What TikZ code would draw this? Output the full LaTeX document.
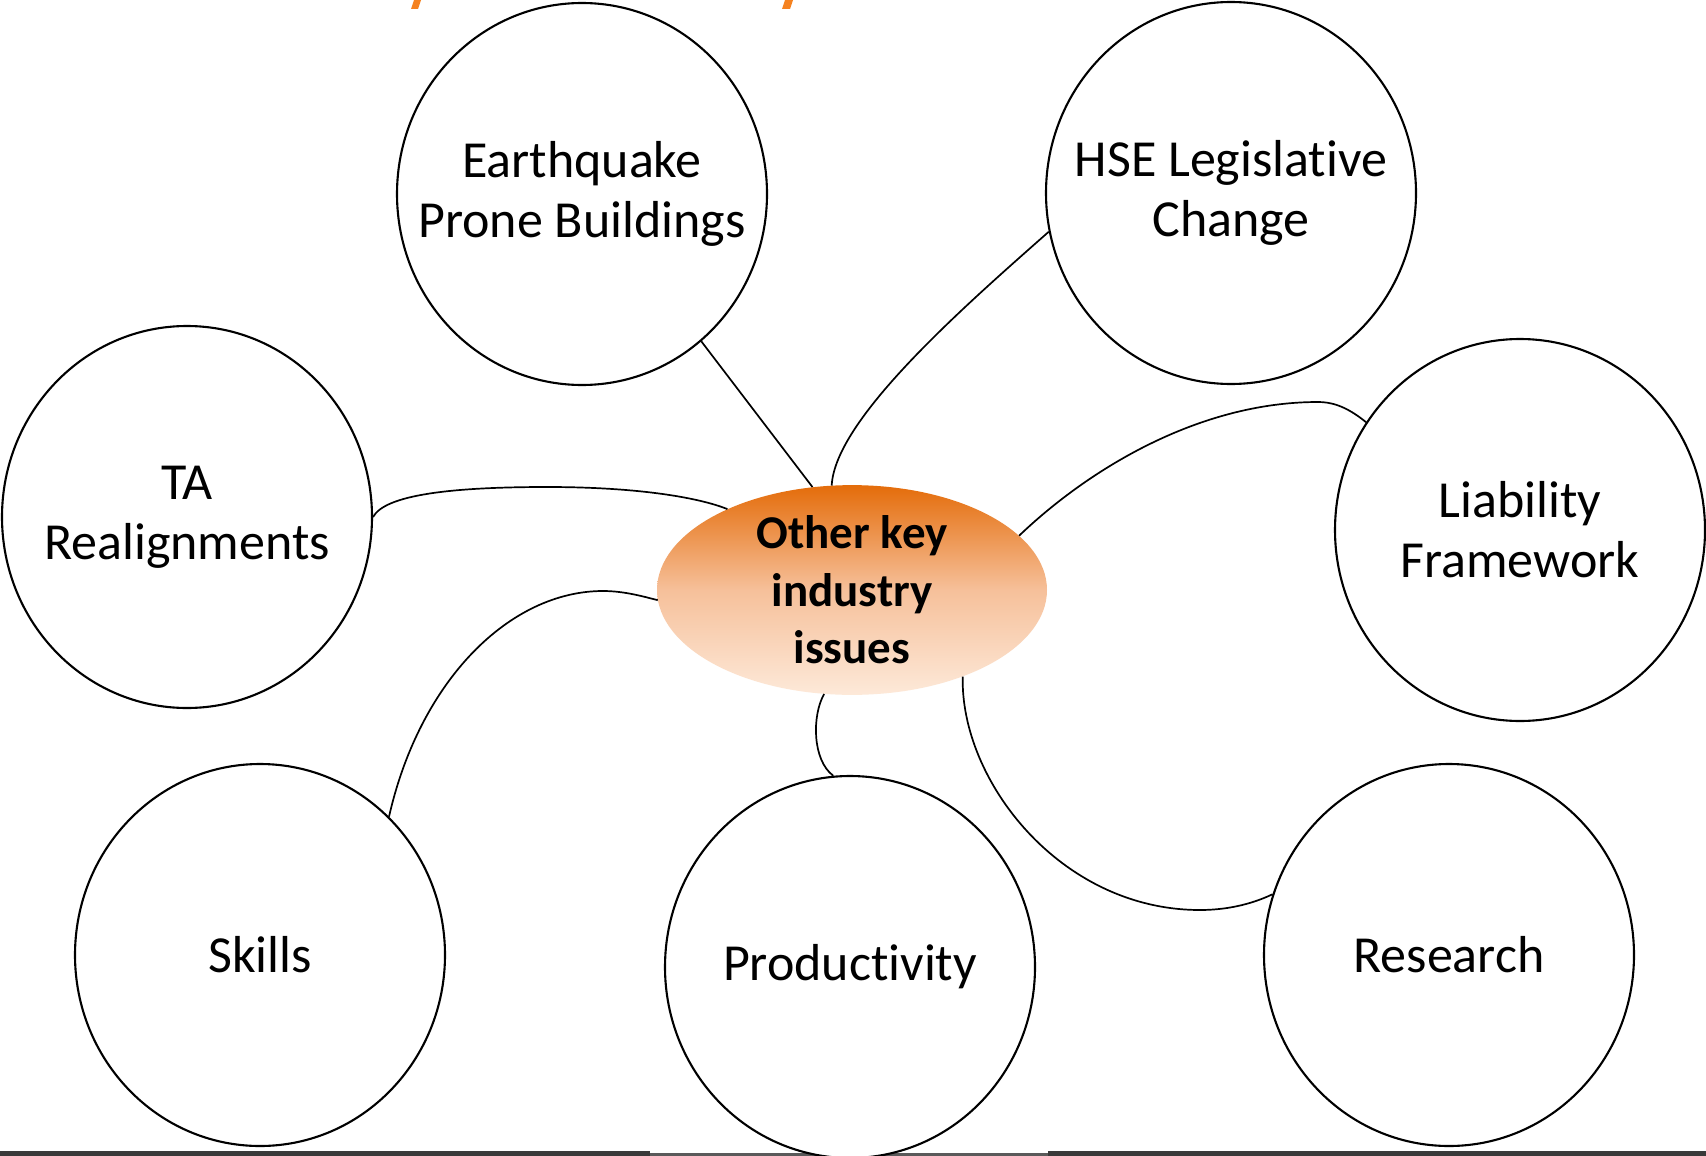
\documentclass[tikz,border=0pt]{standalone}
\usepackage{fontspec}
\setmainfont[Ligatures={NoCommon,NoContextual,NoRare}, Contextuals=NoAlternate]{Carlito}
\usetikzlibrary{shapes.geometric}

\definecolor{hubtop}{HTML}{E46C0A}
\definecolor{hubmid}{HTML}{F6C09A}
\definecolor{hubbot}{HTML}{FDE9D9}
\definecolor{titleorange}{HTML}{F58220}
\definecolor{barbase}{HTML}{3A3A3A}
\definecolor{barmid}{HTML}{5A5A5A}

% white disc that greys slightly towards its rim
\pgfdeclareradialshading{softdisk}{\pgfpoint{0bp}{0bp}}{%
  color(0bp)=(white); color(40bp)=(white); color(47bp)=(black!5); color(50bp)=(black!14)}

\tikzset{
  issuetext/.style={align=center, inner sep=0pt,
    font=\fontsize{52pt}{60pt}\selectfont},
  issue/.style={ellipse, draw=black, line width=2.1pt, shading=softdisk,
    minimum width=370pt, minimum height=382pt, inner sep=0pt,
    label={[issuetext]center:#1}},
  hubnode/.style={ellipse, minimum width=390pt, minimum height=206pt,
    inner sep=0pt, align=center, top color=hubtop, bottom color=hubbot,
    middle color=hubmid, font=\bfseries\fontsize{47pt}{57.5pt}\selectfont},
  link/.style={draw=black, line width=1.7pt}
}

\begin{document}
\begin{tikzpicture}[x=1pt, y=-1pt]
  \useasboundingbox (0,0) rectangle (1706,1156);
  \fill[white] (0,0) rectangle (1706,1156);

  % rule along the bottom edge
  \fill[barbase] (0,1151) rectangle (650,1156);
  \fill[barmid] (650,1153) rectangle (1048,1156);
  \fill[barbase] (1048,1151) rectangle (1706,1156);

  % descenders of the heading above
  \fill[titleorange] (414,0) -- (421,0) -- (418,9) -- (411,9) -- cycle;
  \fill[titleorange] (785,0) -- (793,0) -- (790,9) -- (782,9) -- cycle;

  % issues
  \node[issue={Earthquake\\Prone Buildings}] (eq)  at (582,194)  {};
  \node[issue={HSE Legislative\\Change}]     (hse) at (1231,193) {};
  \node[issue={TA\\Realignments}]            (ta)  at (187,517)  {};
  \node[issue={Liability\\Framework}]        (liab) at (1520,530) {};
  \node[issue={Skills}]                      (skills) at (260,955) {};
  \node[issue={Productivity}]                (prod) at (850,967) {};
  \node[issue={Research}]                    (res) at (1449,955) {};

  % centre
  \node[hubnode] (hub) at (852,590) {Other key\\industry\\issues};

  % links
  \draw[link] (eq.-51) -- (hub.111);
  \draw[link] (hse.192) .. controls (960,310) and (835,420) .. (hub.101);
  \draw[link] (liab.145) .. controls (1345,405) and (1330,402) .. (1318,402)
              .. controls (1200,402) and (1090,468) .. (hub.18.3);
  \draw[link] (ta.0) .. controls (385,495) and (450,487) .. (547,487)
              .. controls (640,487) and (700,498) .. (hub.147.4);
  \draw[link] (skills.47.6) .. controls (420,680) and (510,591) .. (603,591)
              .. controls (625,591) and (645,597) .. (hub.183.8);
  \draw[link] (prod.95.9) .. controls (812,760) and (812,715) .. (hub.255.7);
  \draw[link] (res.161.2) .. controls (1250,905) and (1225,910) .. (1200,910)
              .. controls (1060,910) and (960,780) .. (hub.-38.5);
\end{tikzpicture}
\end{document}
